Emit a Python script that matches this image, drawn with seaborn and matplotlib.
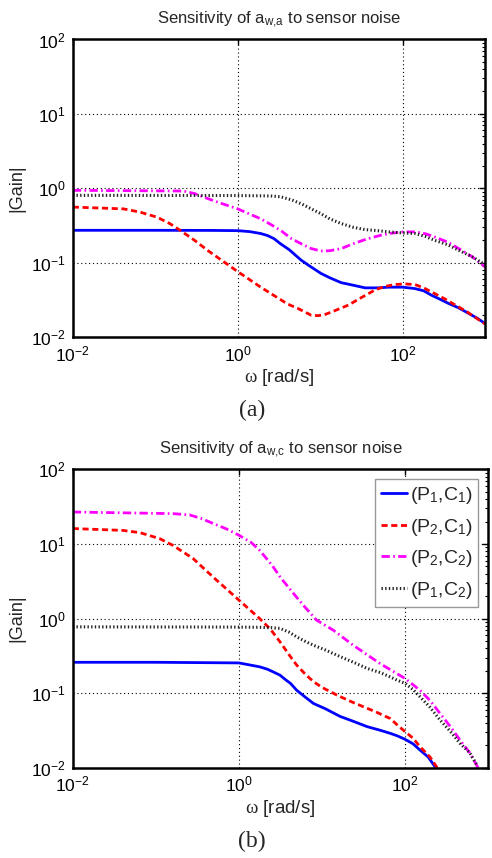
import numpy as np
import pandas as pd
import matplotlib
matplotlib.use("Agg")
import matplotlib.pyplot as plt
import seaborn as sns


# ─────────────────────────────────────────────
# DATA
# ─────────────────────────────────────────────
labels = ["(P$_1$,C$_1$)", "(P$_2$,C$_1$)", "(P$_2$,C$_2$)", "(P$_1$,C$_2$)"]

# (a) sensitivity of a_w,a
a_w_p1c1 = [0.01, 0.1, 0.5, 1.0, 1.4, 1.9, 2.3, 2.75, 3.3, 4.2, 5.9, 7.5, 10.2, 13, 18, 25, 35,
            50, 68, 100, 141, 180, 224, 290, 363, 470, 631, 800, 1000]
a_g_p1c1 = [0.273, 0.273, 0.272, 0.27, 0.262, 0.247, 0.232, 0.211, 0.18, 0.150, 0.108, 0.09,
            0.072, 0.063, 0.054, 0.05, 0.046, 0.046, 0.047, 0.047, 0.045, 0.042, 0.0366, 0.032,
            0.0283, 0.025, 0.0209, 0.018, 0.0153]

a_w_p2c1 = [0.01, 0.041, 0.065, 0.105, 0.15, 0.2, 0.3, 0.43, 1.0, 1.9, 4.0, 5.5, 7.8, 9.5, 11.2,
            14, 22, 30, 46, 60, 81, 105, 141, 180, 245, 320, 436, 600, 1000]
a_g_p2c1 = [0.56, 0.53, 0.48, 0.41, 0.336, 0.273, 0.20, 0.147, 0.076, 0.047, 0.028, 0.024,
            0.0197, 0.0195, 0.020, 0.022, 0.027, 0.033, 0.043, 0.048, 0.051, 0.052, 0.051,
            0.046, 0.0385, 0.033, 0.027, 0.022, 0.015]

a_w_p2c2 = [0.01, 0.22, 0.3, 0.43, 0.6, 1.0, 1.4, 1.9, 2.6, 3.3, 4.5, 5.9, 7.8, 10.2, 13, 18,
            25, 38, 55, 74, 100, 141, 190, 245, 350, 479, 700, 1000]
a_g_p2c2 = [0.94, 0.92, 0.85, 0.73, 0.64, 0.53, 0.45, 0.39, 0.32, 0.273, 0.21, 0.18, 0.155,
            0.144, 0.145, 0.155, 0.18, 0.211, 0.235, 0.25, 0.26, 0.26, 0.245, 0.222, 0.19,
            0.155, 0.12, 0.088]

a_w_p1c2 = [0.01, 1.0, 2.5, 3.3, 4.5, 5.9, 7.8, 10.2, 13, 18, 25, 35, 50, 68, 100, 141, 190,
            245, 350, 479, 700, 1000]
a_g_p1c2 = [0.805, 0.80, 0.79, 0.77, 0.70, 0.62, 0.53, 0.457, 0.39, 0.336, 0.30, 0.279, 0.27,
            0.26, 0.252, 0.247, 0.225, 0.20, 0.175, 0.147, 0.12, 0.094]

# (b) sensitivity of a_w,c
b_w_p1c1 = [0.01, 0.1, 1.0, 1.78, 2.2, 2.57, 3.12, 3.7, 4.2, 4.95, 6.2, 7.9, 11, 16.5, 24, 35,
            50, 66, 80, 100, 125, 151, 190, 235]
b_g_p1c1 = [0.26, 0.26, 0.255, 0.226, 0.21, 0.194, 0.175, 0.150, 0.135, 0.110, 0.09, 0.073,
            0.062, 0.049, 0.042, 0.0357, 0.032, 0.0291, 0.027, 0.0242, 0.021, 0.0174, 0.014,
            0.0100]

b_w_p2c1 = [0.01, 0.04, 0.064, 0.111, 0.16, 0.28, 0.49, 1.0, 1.78, 2.4, 3.12, 4.0, 4.95, 6.3,
            7.9, 10, 15, 22, 31.5, 45, 66, 80, 100, 125, 151, 200, 245]
b_g_p2c1 = [16.1, 15.2, 14.2, 11.8, 9.6, 6.4, 3.6, 1.77, 1.0, 0.72, 0.49, 0.33, 0.239, 0.18,
            0.143, 0.12, 0.095, 0.078, 0.066, 0.056, 0.046, 0.038, 0.0306, 0.025, 0.0193,
            0.014, 0.010]

b_w_p2c2 = [0.01, 0.16, 0.255, 0.35, 0.49, 0.7, 1.0, 1.4, 1.78, 2.5, 3.2, 4.5, 6.0, 8.6, 13.7,
            23.8, 50, 100, 125, 151, 200, 263, 350, 458, 600, 760]
b_g_p2c2 = [26.8, 25.5, 24.5, 22, 18.8, 16, 13.1, 10.5, 8.2, 5.2, 3.5, 2.2, 1.5, 0.955, 0.70,
            0.44, 0.25, 0.158, 0.13, 0.11, 0.08, 0.054, 0.036, 0.0237, 0.016, 0.010]

b_w_p1c2 = [0.01, 1.0, 1.8, 2.5, 3.12, 4.0, 4.95, 6.2, 7.9, 11, 16.5, 24, 35, 50, 66, 80, 100,
            125, 151, 200, 263, 350, 458, 600, 730]
b_g_p1c2 = [0.776, 0.77, 0.765, 0.755, 0.74, 0.66, 0.57, 0.50, 0.44, 0.38, 0.31, 0.26, 0.215,
            0.19, 0.166, 0.15, 0.136, 0.112, 0.090, 0.065, 0.044, 0.031, 0.0214, 0.016, 0.011]

x_ticks = [1e-2, 1e0, 1e2]
y_ticks = [1e-2, 1e-1, 1e0, 1e1, 1e2]


# ─────────────────────────────────────────────
# STYLE
# ─────────────────────────────────────────────
sns.set_style("white")
plt.rcParams["font.family"] = ["Liberation Sans", "DejaVu Sans"]
plt.rcParams["mathtext.fontset"] = "custom"
plt.rcParams["mathtext.rm"] = "Liberation Sans"
plt.rcParams["mathtext.it"] = "Liberation Serif"
plt.rcParams["mathtext.bf"] = "Liberation Sans:bold"

colors = ["#0000ff", "#ff0000", "#ff00ff", "#222222"]
styles = ["-", (0, (2.2, 1.3)), (0, (3.0, 1.2, 0.6, 1.2)), (0, (0.45, 0.75))]
widths = [2.0, 2.0, 2.0, 2.2]


def draw_panel(ax, series, title, show_legend):
    for (w, g), lab, c, ls, lw in zip(series, labels, colors, styles, widths):
        df = pd.DataFrame({"w": w, "gain": g})
        sns.lineplot(data=df, x="w", y="gain", ax=ax, color=c, linestyle=ls,
                     linewidth=lw, label=lab, estimator=None, sort=False,
                     legend=show_legend)
    ax.set_xscale("log")
    ax.set_yscale("log")
    ax.set_xlim(1e-2, 1e3)
    ax.set_ylim(1e-2, 1e2)
    ax.set_xticks(x_ticks)
    ax.set_yticks(y_ticks)
    ax.xaxis.set_minor_locator(matplotlib.ticker.NullLocator())
    ax.yaxis.set_minor_locator(matplotlib.ticker.LogLocator(base=10, subs=np.arange(2, 10)))
    ax.yaxis.set_minor_formatter(matplotlib.ticker.NullFormatter())
    ax.tick_params(which="both", direction="in", top=True, right=True,
                   labelsize=12.5, pad=5, colors="black")
    ax.tick_params(which="major", length=4, width=1)
    ax.tick_params(which="minor", length=2, width=0.8)
    ax.grid(True, which="major", color="black", linestyle=(0, (1, 2.5)), linewidth=0.8)
    for s in ax.spines.values():
        s.set_color("black")
        s.set_linewidth(1.8)
    ax.set_title(title, fontsize=12, pad=12)
    ax.set_xlabel(r"$\omega$ [rad/s]", fontsize=13.5, labelpad=2)
    ax.set_ylabel("|Gain|", fontsize=13, labelpad=4)
    if show_legend:
        ax.legend(loc="upper right", fontsize=14, frameon=True, fancybox=False,
                  edgecolor="#999999", framealpha=1, handlelength=1.35,
                  handletextpad=0.15, labelspacing=0.55, borderpad=0.3,
                  borderaxespad=0.5)
    elif ax.get_legend() is not None:
        ax.get_legend().remove()


fig = plt.figure(figsize=(4.92, 8.58), dpi=100)
ax1 = fig.add_axes([0.148, 0.607, 0.838, 0.347])
ax2 = fig.add_axes([0.148, 0.105, 0.844, 0.348])

draw_panel(ax1, [(a_w_p1c1, a_g_p1c1), (a_w_p2c1, a_g_p2c1),
                 (a_w_p2c2, a_g_p2c2), (a_w_p1c2, a_g_p1c2)],
           r"Sensitivity of a$_{\mathrm{w{,}a}}$ to sensor noise", False)
draw_panel(ax2, [(b_w_p1c1, b_g_p1c1), (b_w_p2c1, b_g_p2c1),
                 (b_w_p2c2, b_g_p2c2), (b_w_p1c2, b_g_p1c2)],
           r"Sensitivity of a$_{\mathrm{w{,}c}}$ to sensor noise", True)

fig.text(0.512, 0.522, "(a)", ha="center", va="center", fontsize=17,
         family=["Liberation Serif", "DejaVu Serif"])
fig.text(0.512, 0.019, "(b)", ha="center", va="center", fontsize=17,
         family=["Liberation Serif", "DejaVu Serif"])

fig.savefig("out.png", dpi=100)
plt.close(fig)
